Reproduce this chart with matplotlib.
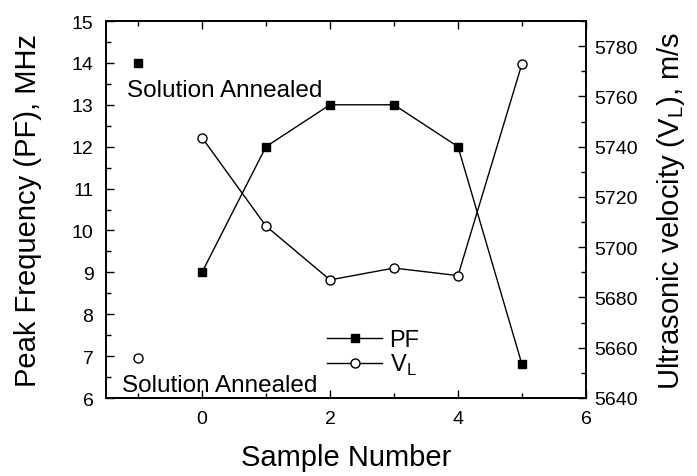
import numpy as np
import matplotlib.pyplot as plt
from matplotlib.ticker import MultipleLocator

plt.rcParams['font.family'] = ['Liberation Sans', 'DejaVu Sans']

sample = [0, 1, 2, 3, 4, 5]
pf = [9, 12, 13, 13, 12, 6.8]
vl = [5743.6, 5708.4, 5687, 5691.7, 5688.7, 5773]
# solution annealed reference points, plotted at x = -1
sa_x = -1
sa_pf = 14
sa_vl = 5656

fig = plt.figure(figsize=(6.97, 4.77), dpi=100)
ax = fig.add_axes([106 / 697, 1 - 399 / 477, 480 / 697, 377 / 477])
ax2 = ax.twinx()

l1, = ax.plot(sample, pf, 'k-', marker='s', ms=6, mfc='k', mec='k', lw=1)
ax.plot([sa_x], [sa_pf], 'ks', ms=6)
l2, = ax2.plot(sample, vl, 'k-', marker='o', ms=6.5, mfc='white', mec='k', mew=1, lw=1)
ax2.plot([sa_x], [sa_vl], 'o', ms=6.5, mfc='white', mec='k', mew=1)

ax.set_xlim(-1.5, 6)
ax.set_ylim(6, 15)
ax2.set_ylim(5640, 5790)

ax.xaxis.set_major_locator(MultipleLocator(2))
ax.xaxis.set_minor_locator(MultipleLocator(1))
ax.yaxis.set_major_locator(MultipleLocator(1))
ax.yaxis.set_minor_locator(MultipleLocator(0.5))
ax2.yaxis.set_major_locator(MultipleLocator(20))
ax2.yaxis.set_minor_locator(MultipleLocator(10))

for a in (ax, ax2):
    a.tick_params(which='both', direction='in', labelsize=14, width=1)
    a.tick_params(which='major', length=6)
    a.tick_params(which='minor', length=3.5)
    for s in a.spines.values():
        s.set_linewidth(1.2)
ax.tick_params(which='both', top=True)
ax.tick_params(axis='x', which='major', pad=9)
ax.tick_params(axis='y', which='major', pad=9)
ax2.tick_params(axis='y', which='major', pad=6)

ax.set_xlabel('Sample Number', fontsize=21, labelpad=11)
ax.set_ylabel('Peak Frequency (PF), MHz', fontsize=21, labelpad=21)
ax2.set_ylabel('Ultrasonic velocity (V$_\\mathregular{L}$), m/s', fontsize=21, labelpad=12)

ax.text(-1.17, 13.21, 'Solution Annealed', fontsize=17.5, ha='left', va='baseline')
ax.text(-1.25, 6.17, 'Solution Annealed', fontsize=17.5, ha='left', va='baseline')

ax.legend([l1, l2], ['PF', 'V$_\\mathregular{L}$'], loc='center left',
          bbox_to_anchor=(327 / 697, 1 - 354 / 477), bbox_transform=fig.transFigure,
          frameon=False, fontsize=17, borderpad=0, borderaxespad=0,
          handlelength=2.35, handletextpad=0.3, labelspacing=0.05)

fig.savefig('out.png', dpi=100)
